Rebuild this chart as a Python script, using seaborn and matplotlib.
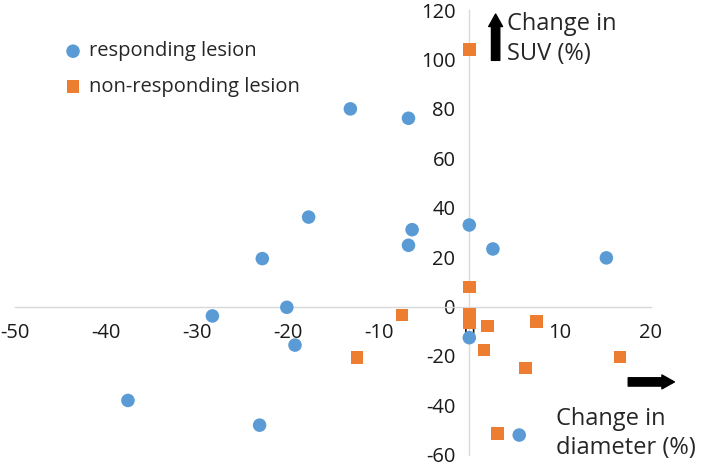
import numpy as np
import pandas as pd
import seaborn as sns
import matplotlib.pyplot as plt

# Data
resp_x = [-13.1, -6.7, -17.7, -6.3, -6.7, 0.0, 2.6, 15.1, -22.8, -20.1, -28.3, -19.2, -37.6, -23.1, 5.5, 0.0]
resp_y = [80.0, 76.2, 36.2, 31.1, 24.8, 33.0, 23.3, 19.7, 19.4, -0.3, -3.8, -15.6, -38.0, -48.0, -52.0, -12.6]
nonresp_x = [0.0, 0.0, 0.0, 0.0, -7.4, 2.0, 7.4, 1.6, -12.4, 16.6, 6.2, 3.1]
nonresp_y = [104.1, 7.8, -3.3, -6.5, -3.5, -7.8, -6.1, -17.6, -20.7, -20.5, -24.8, -51.4]
groups = ["responding lesion", "non-responding lesion"]
x_ticks = [-50, -40, -30, -20, -10, 0, 10, 20]
y_ticks = [-60, -40, -20, 0, 20, 40, 60, 80, 100, 120]

df = pd.DataFrame({
    "diameter": resp_x + nonresp_x,
    "suv": resp_y + nonresp_y,
    "group": [groups[0]] * len(resp_x) + [groups[1]] * len(nonresp_x),
})

sns.set_style("white")
plt.rcParams["font.family"] = ["Open Sans", "DejaVu Sans"]
plt.rcParams["axes.unicode_minus"] = False

fig = plt.figure(figsize=(7.09, 4.66), dpi=100)
ax = fig.add_axes([0.0217, 0.0240, 0.8963, 0.9545])

palette = {groups[0]: "#5B9BD5", groups[1]: "#ED7D31"}
markers = {groups[0]: "o", groups[1]: "s"}
for g in groups:
    sub = df[df["group"] == g]
    sns.scatterplot(data=sub, x="diameter", y="suv", color=palette[g], marker=markers[g],
                    s=95 if g == groups[0] else 80, edgecolor="none", label=g, ax=ax, zorder=3)

ax.set_xlim(-50, 20)
ax.set_ylim(-60, 120)
ax.set_xticks(x_ticks)
ax.set_yticks(y_ticks)
ax.set_xlabel("")
ax.set_ylabel("")

# Axes cross at the origin, Excel style
for side in ["top", "right"]:
    ax.spines[side].set_visible(False)
for side in ["left", "bottom"]:
    ax.spines[side].set_position("zero")
    ax.spines[side].set_color("#D9D9D9")
    ax.spines[side].set_linewidth(1.0)
ax.tick_params(axis="both", colors="#D9D9D9", length=5, width=1, labelsize=14.5,
               labelcolor="#1a1a1a", direction="out")
ax.tick_params(axis="x", pad=7)
ax.tick_params(axis="y", pad=5)

leg = ax.legend(loc="upper left", bbox_to_anchor=(0.04, 0.97), frameon=False,
                fontsize=14.5, handletextpad=0.1, handlelength=1.4, labelspacing=0.75)

# Direction arrows and axis captions
arrow_style = "simple,head_width=1.0,head_length=0.9,tail_width=0.6"
ax.annotate("", xy=(2.9, 119.5), xytext=(2.9, 98.5),
            arrowprops=dict(arrowstyle=arrow_style, color="black"), annotation_clip=False)
ax.text(4.2, 119, "Change in\nSUV (%)", fontsize=17, va="top", ha="left", linespacing=1.3)
ax.annotate("", xy=(22.9, -30.5), xytext=(17.2, -30.5),
            arrowprops=dict(arrowstyle=arrow_style, color="black"), annotation_clip=False)
ax.text(9.6, -40.5, "Change in\ndiameter (%)", fontsize=17, va="top", ha="left", linespacing=1.3)

fig.savefig("out.png", dpi=100)
